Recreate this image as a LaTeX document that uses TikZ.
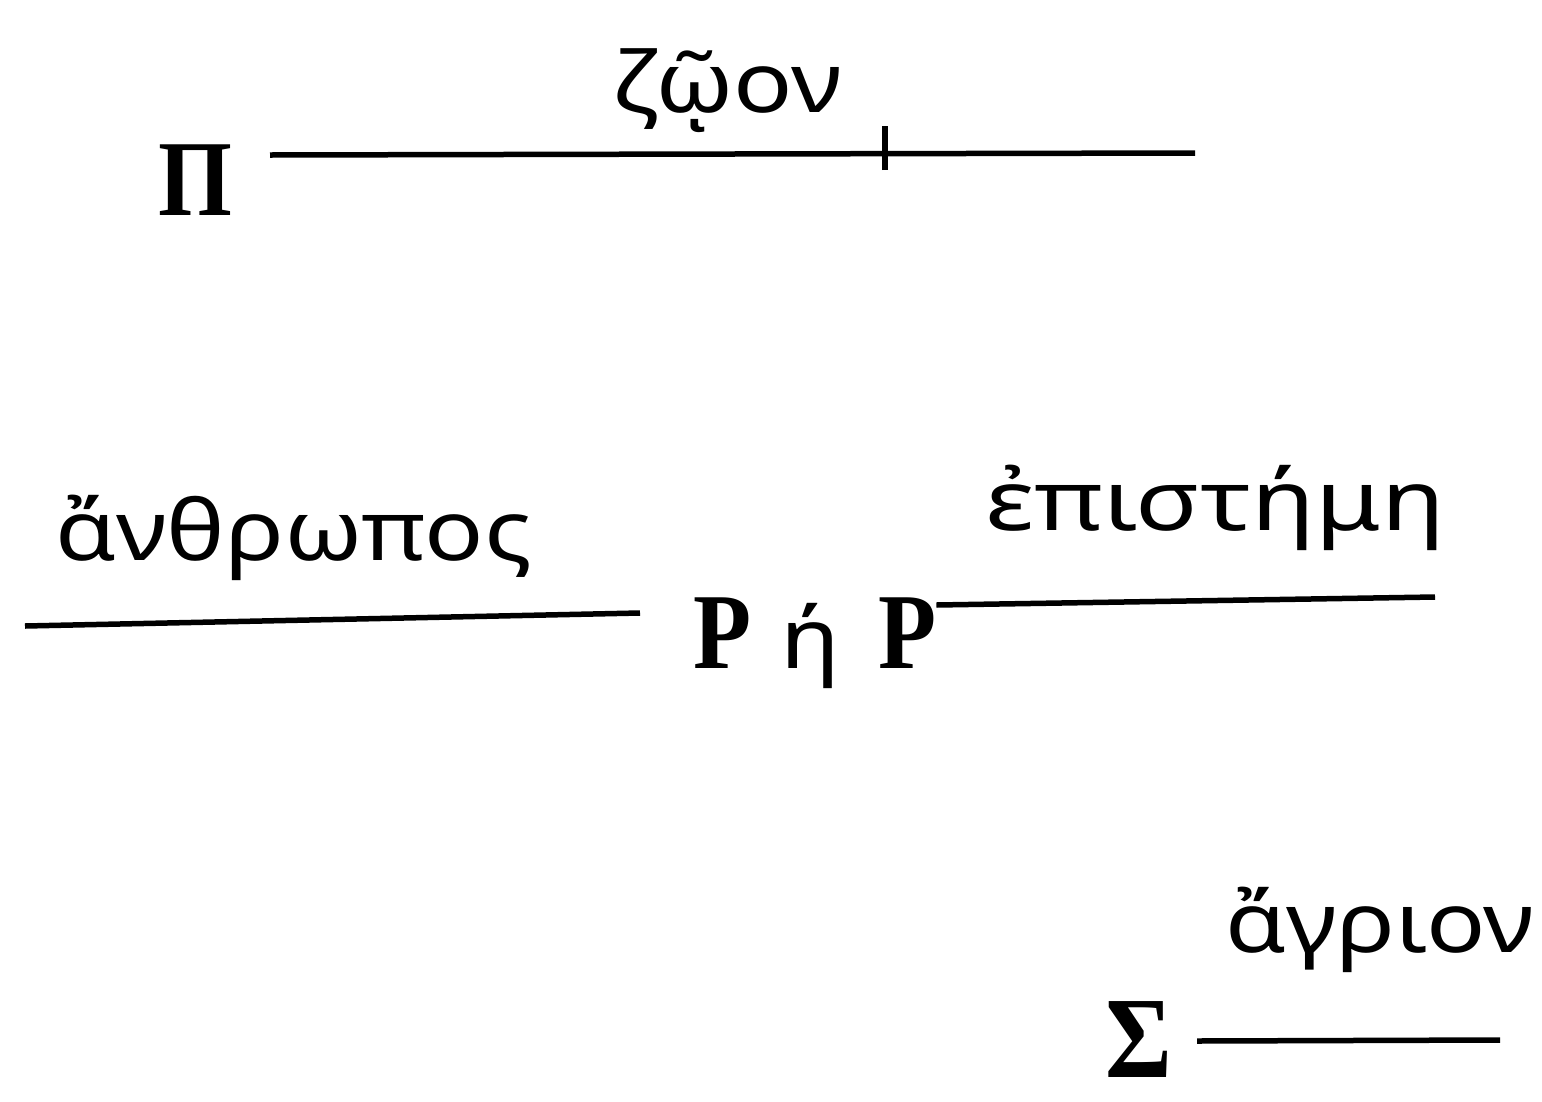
\documentclass[tikz,border=0pt]{standalone}
\usepackage{fontspec}
\newfontfamily\grfont[FakeStretch=1.17]{Noto Sans}
\newfontfamily\grwide[FakeStretch=1.25]{Noto Sans}
\newfontfamily\capfont[FakeStretch=0.88]{Liberation Serif}
\tikzset{
  lbl/.style={inner sep=0pt, anchor=base west, font=\grfont\fontsize{84}{90}\selectfont},
  lblw/.style={inner sep=0pt, anchor=base west, font=\grwide\fontsize{84}{90}\selectfont},
  capl/.style={inner sep=0pt, anchor=base west, font=\capfont\bfseries\fontsize{108}{110}\selectfont},
  rule/.style={line width=5.5pt}
}
\begin{document}
\begin{tikzpicture}[x=1pt,y=-1pt]
\useasboundingbox (0,0) rectangle (1542,1101);
% top
\node[capl] (pi) at (158,215) {Π};
\coordinate (pistart) at (270,155);
\coordinate (piend) at (1195,153);
\coordinate (tick) at (885,154);
\draw[rule] (pistart) -- (piend);
\draw[line width=6.5pt] ([yshift=-16pt]tick) -- ([yshift=28pt]tick);
\node[lbl] (zoon) at (612,112) {ζῷον};
% middle
\node[lbl] (anthr) at (55,560) {ἄνθρωπος};
\coordinate (aleft) at (25,626);
\coordinate (aright) at (640,613);
\draw[rule] (aleft) -- (aright);
\node[capl] (p1) at (693,668) {Ρ};
\node[lbl] (eta) at (780,668) {ή};
\node[capl] (p2) at (878,668) {Ρ};
\coordinate (eend) at (1435,597);
\draw[rule] (p2.east |- 0,605) -- (eend);
\node[lblw] (epi) at (985,530) {ἐπιστήμη};
% bottom
\node[lbl] (agr) at (1225,952) {ἄγριον};
\node[capl, font=\capfont\bfseries\fontsize{116}{118}\selectfont] (sig) at (1105,1077) {Σ};
\coordinate (sstart) at (1197,1041);
\coordinate (send) at (1500,1040);
\draw[rule] (sstart) -- (send);
\end{tikzpicture}
\end{document}
